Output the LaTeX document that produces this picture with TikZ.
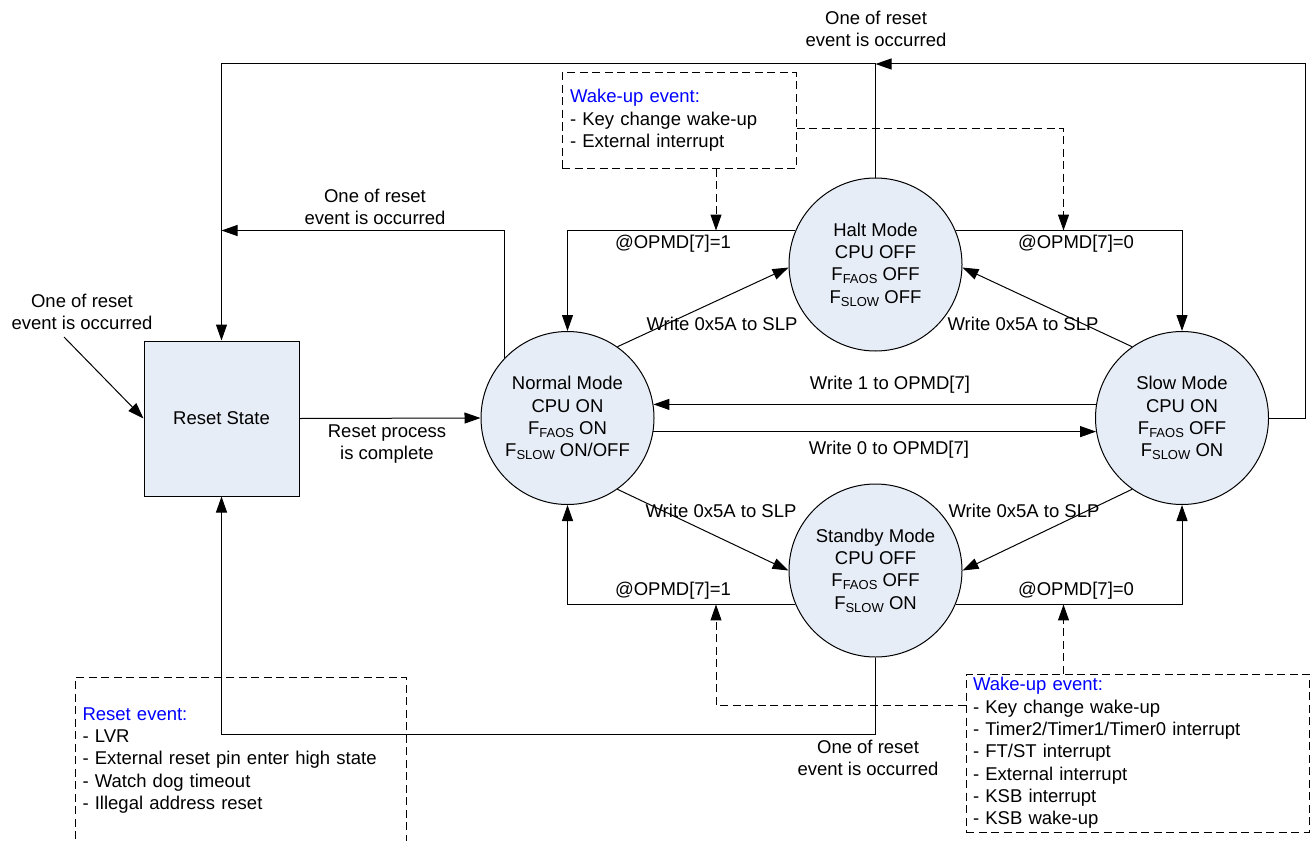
\documentclass[tikz,border=0pt]{standalone}
\usepackage{fontspec}
\setmainfont{Liberation Sans}
\usepackage{tikz}
\usetikzlibrary{arrows.meta, positioning}
\usepackage{xcolor}
\definecolor{statefill}{RGB}{231,237,247}
\definecolor{eventblue}{RGB}{0,0,255}
\newcommand{\Fsub}[1]{F\raisebox{-0.3ex}{\fontsize{13}{13}\selectfont #1}}
\tikzset{%
	every state/.style={
		circle,
		draw,
		fill=statefill,
		minimum size=173pt,
		inner sep=0pt,
		align=center
	},
	event box/.style={
		draw,
		dash pattern=on 8pt off 4.5pt,
		align=left,
		inner xsep=7pt
	},
}

\begin{document}
\begin{tikzpicture}[
	x=1pt, y=-1pt,
	line width=1pt,
	every node/.style={font=\fontsize{18.5}{22.3}\selectfont},
	edge label/.style={align=center},
	flow line/.style={draw, -{Triangle[length=16pt, width=11pt]}},
	wake line/.style={flow line, dash pattern=on 8pt off 4.5pt}
	]
	
	\useasboundingbox (0,0) rectangle (1313,840);
	
	% States
	\node[draw, fill=statefill, minimum width=155pt, minimum height=155pt] (reset) at (221.5,418.5) {Reset State};
	\node[every state] (normal) at (567.5,418) {Normal Mode\\CPU ON\\\Fsub{FAOS} ON\\\Fsub{SLOW} ON/OFF};
	\node[every state] (halt) at (875.5,264.5) {Halt Mode\\CPU OFF\\\Fsub{FAOS} OFF\\\Fsub{SLOW} OFF};
	\node[every state] (standby) at (875.5,570.5) {Standby Mode\\CPU OFF\\\Fsub{FAOS} OFF\\\Fsub{SLOW} ON};
	\node[every state] (slow) at (1182,418) {Slow Mode\\CPU ON\\\Fsub{FAOS} OFF\\\Fsub{SLOW} ON};
	
	% Event notes
	\node[event box, text width=218pt, minimum height=95pt, inner xsep=8pt] (wakeTop) at (679,120.5)
		{\textcolor{eventblue}{Wake-up event:}\\- Key change wake-up\\- External interrupt};
	\node[event box, text width=329pt, minimum height=158pt] (wakeBot) at (1137.5,753)
		{\textcolor{eventblue}{Wake-up event:}\\- Key change wake-up\\- Timer2/Timer1/Timer0 interrupt\\- FT/ST interrupt\\- External interrupt\\- KSB interrupt\\- KSB wake-up};
	\node[event box, anchor=north west, text width=317pt, inner ysep=30pt] (resetEv) at (75,677)
		{\textcolor{eventblue}{Reset event:}\\- LVR\\- External reset pin enter high state\\- Watch dog timeout\\- Illegal address reset\\~};
	
	\coordinate (topR) at (1305,64);
	\coordinate (botL) at (0,734);
	\coordinate (extIn) at (64,337);
	\coordinate (colL) at (716,0);
	\coordinate (colR) at (1063.5,0);
	
	% Reset paths
	\draw[flow line] (extIn) -- (reset.west);
	\draw[flow line] (reset.east) -- (normal.west);
	\draw[flow line] (slow.east) -| (topR) -- (halt.north |- topR);
	\draw[flow line] (halt.north) |- (reset.north |- topR) -- (reset.north);
	\draw[flow line] (normal.136) |- (reset.north |- halt.157);
	\draw[flow line] (standby.south) |- (reset.south |- botL) -- (reset.south);
	
	% Mode changes
	\draw[flow line] (slow.171) -- (normal.9);
	\draw[flow line] (normal.-9) -- (slow.189);
	\draw[flow line] (normal.55) -- (halt.182);
	\draw[flow line] (slow.125) -- (halt.-2);
	\draw[flow line] (normal.-55) -- (standby.180);
	\draw[flow line] (slow.235) -- (standby.0);
	\draw[flow line] (halt.157) -| (normal.north);
	\draw[flow line] (halt.23) -| (slow.north);
	\draw[flow line] (standby.203) -| (normal.south);
	\draw[flow line] (standby.-23) -| (slow.south);
	
	% Wake-up paths
	\draw[wake line] (colL |- wakeTop.south) -- (colL |- halt.157);
	\draw[wake line] ([yshift=-7.5pt]wakeTop.east) -| (colR |- halt.23);
	\draw[wake line] (colR |- wakeBot.north) -- (colR |- standby.-23);
	\draw[wake line] ([yshift=48pt]wakeBot.west) -| (colL |- standby.203);
	
	% Labels
	\node[edge label] (lTop) at (876,29) {One of reset\\event is occurred};
	\node[edge label] (lMid) at (375,207) {One of reset\\event is occurred};
	\node[edge label] (lExt) at (82,312) {One of reset\\event is occurred};
	\node[edge label] (lBot) at (868,758) {One of reset\\event is occurred};
	\node[edge label] (lDone) at (387,444) {Reset process\\is complete};
	\node (lW1) at (890,385) {Write 1 to OPMD[7]};
	\node (lW0) at (889,450) {Write 0 to OPMD[7]};
	\node (lNH) at (722,324) {Write 0x5A to SLP};
	\node (lSH) at (1023,324) {Write 0x5A to SLP};
	\node (lNS) at (721,511) {Write 0x5A to SLP};
	\node (lSS) at (1024,511) {Write 0x5A to SLP};
	\node (lHN) at (673,244) {@OPMD[7]=1};
	\node (lHS) at (1076,244) {@OPMD[7]=0};
	\node (lSN) at (673,591) {@OPMD[7]=1};
	\node (lSO) at (1076,591) {@OPMD[7]=0};
	
\end{tikzpicture}
\end{document}
